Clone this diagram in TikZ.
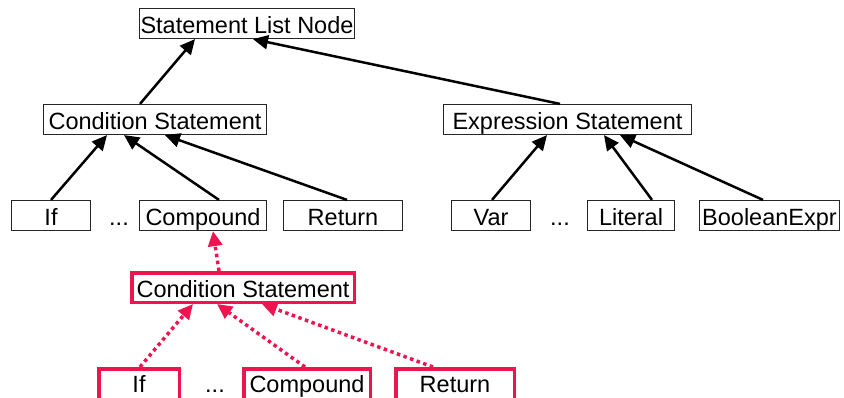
\documentclass[tikz,border=0pt]{standalone}
\usepackage{fontspec}
\setmainfont{Liberation Sans}
\usetikzlibrary{arrows.meta}
\definecolor{hot}{RGB}{238,20,80}
\tikzset{
  base/.style={inner sep=0pt, text height=22pt, text depth=3pt, minimum height=30pt,
    font=\fontsize{23.5}{28}\selectfont},
  bbox/.style={base, draw=black!85, line width=1.2pt},
  rbox/.style={base, draw=hot, line width=3.5pt, minimum height=29.5pt},
  rlow/.style={rbox, minimum height=42.5pt, text depth=17pt},
  plain/.style={base},
  barrow/.style={-{Triangle[length=15pt,width=14pt]}, line width=2.5pt, black},
  rarrow/.style={-{Triangle[length=15pt,width=14pt]}, line width=3.5pt, hot, dash pattern=on 3.5pt off 3.5pt},
}
\begin{document}
\begin{tikzpicture}[x=1pt,y=-1pt]
\useasboundingbox (0,0) rectangle (844,397);
\clip (0,0) rectangle (844,397);
\fill[white] (0,0) rectangle (844,397);
% top
\node[bbox, minimum width=215pt] (sln) at (247,23.5) {Statement List Node};
\node[bbox, minimum width=223pt] (cond) at (155,119.5) {Condition Statement};
\node[bbox, minimum width=248pt] (expr) at (567.5,119.5) {Expression Statement};
% bottom row
\node[bbox, minimum width=79pt] (if) at (51,215.5) {If};
\node[plain] (dots1) at (119,215.5) {...};
\node[bbox, minimum width=127pt] (comp) at (203,215.5) {Compound};
\node[bbox, minimum width=119pt] (ret) at (343,215.5) {Return};
\node[bbox, minimum width=79pt] (var) at (491,215.5) {Var};
\node[plain] (dots2) at (560,215.5) {...};
\node[bbox, minimum width=87pt] (lit) at (631,215.5) {Literal};
\node[bbox, minimum width=140pt] (bool) at (769.5,215.5) {BooleanExpr};
% red
\node[rbox, minimum width=222.5pt] (rcond) at (243,287.5) {Condition Statement};
\node[rlow, minimum width=80.5pt] (rif) at (139,390) {If};
\node[plain, text height=3pt, text depth=0pt, minimum height=0pt, anchor=base] (rdots) at (215,392) {...};
\node[rlow, minimum width=126.5pt] (rcomp) at (307,390) {Compound};
\node[rlow, minimum width=118.5pt] (rret) at (455,390) {Return};
% black arrows
\draw[barrow] ([xshift=-15pt]cond.north) -- ([xshift=-52pt]sln.south);
\draw[barrow] ([xshift=-7.5pt]expr.north) -- ([xshift=6pt]sln.south);
\draw[barrow] (if.north) -- ([xshift=-48pt]cond.south);
\draw[barrow] ([xshift=16pt]comp.north) -- ([xshift=-31pt]cond.south);
\draw[barrow] ([xshift=4pt]ret.north) -- ([xshift=10pt]cond.south);
\draw[barrow] ([xshift=1pt]var.north) -- ([xshift=-20.5pt]expr.south);
\draw[barrow] ([xshift=21pt]lit.north) -- ([xshift=36.5pt]expr.south);
\draw[barrow] ([xshift=-6.5pt]bool.north) -- ([xshift=52.5pt]expr.south);
% red arrows
\draw[rarrow] ([xshift=-24pt]rcond.north) -- ([xshift=10pt]comp.south);
\draw[rarrow] ([xshift=1pt]rif.north) -- ([xshift=-50pt]rcond.south);
\draw[rarrow] ([xshift=-2pt]rcomp.north) -- ([xshift=-26pt]rcond.south);
\draw[rarrow] ([xshift=-22pt]rret.north) -- ([xshift=19pt]rcond.south);
\end{tikzpicture}
\end{document}
